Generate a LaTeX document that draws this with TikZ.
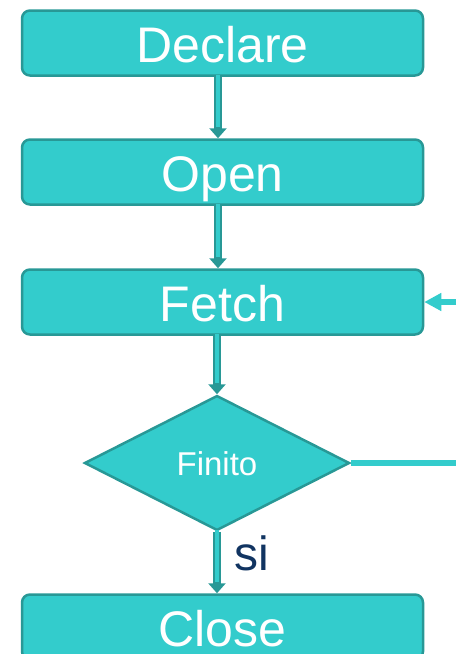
\documentclass[tikz,border=0pt]{standalone}
\usepackage{fontspec}
\setmainfont{Liberation Sans}
\usetikzlibrary{shapes.geometric,arrows.meta}

\definecolor{tealfill}{RGB}{51,204,204}
\definecolor{tealedge}{RGB}{40,152,150}
\definecolor{navytext}{RGB}{17,52,97}

\tikzset{
  stepbox/.style={draw=tealedge, fill=tealfill, line width=2.5pt,
    rounded corners=8pt, minimum width=401pt, minimum height=65pt,
    inner sep=0pt, text=white, font=\fontsize{50}{60}\selectfont,
    text height=39pt, text depth=0pt},
  decisionbox/.style={diamond, draw=tealedge, fill=tealfill, line width=2.5pt,
    minimum width=265pt, minimum height=135pt, inner sep=0pt, text=white,
    font=\fontsize{33}{40}\selectfont, text height=25pt, text depth=0pt},
  flowshaft/.style={draw=tealedge, line width=8pt,
    -{Triangle[width=17pt,length=10pt]}},
  flowcore/.style={draw=tealfill, line width=3.5pt, shorten >=11pt},
  loopline/.style={draw=tealfill, line width=6pt},
  looptip/.style={-{Triangle[width=17pt,length=17pt]}},
}

\begin{document}
\begin{tikzpicture}[x=1pt,y=-1pt]
  \useasboundingbox (0,0) rectangle (456,654);

  % process steps
  \node[stepbox] (declare) at (222.5,43)  {Declare};
  \node[stepbox] (open)    at (222.5,172) {Open};
  \node[stepbox] (fetch)   at (222.5,302) {Fetch};
  \node[decisionbox] (finito) at (217,463) {Finito};
  \node[stepbox] (close)   at (222.5,627) {Close};

  % vertical block arrows between the steps
  \foreach \a/\b/\x in {declare/open/218, open/fetch/218, fetch/finito/217, finito/close/217} {
    \draw[flowshaft] (\x,0 |- \a.south) -- (\x,0 |- \b.north);
    \draw[flowcore]  ([yshift=1.5pt]\x,0 |- \a.south) -- (\x,0 |- \b.north);
  }

  % loop back into Fetch
  \coordinate (loopin)  at (456,302);
  \coordinate (loopout) at (456,463);
  \draw[loopline, looptip] (loopin) -- (fetch.east);
  \draw[loopline] (finito.east) -- (loopout);

  % exit label
  \node[text=navytext, font=\fontsize{48}{56}\selectfont, inner sep=0pt]
    (silabel) at (252,553) {si};
\end{tikzpicture}
\end{document}
